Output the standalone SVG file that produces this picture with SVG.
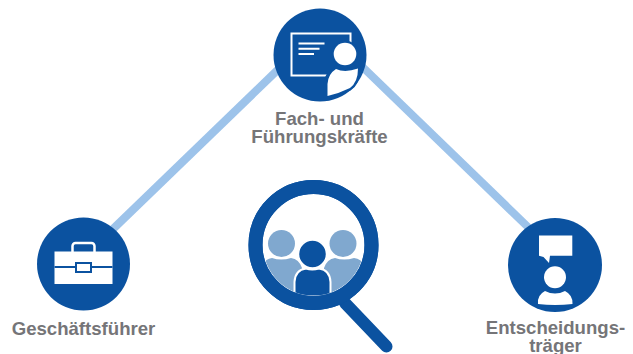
<svg xmlns="http://www.w3.org/2000/svg" width="633" height="354" viewBox="0 0 633 354">
<defs><clipPath id="lens"><circle cx="313.500" cy="245" r="50.500"/></clipPath></defs>
<style>
.c{fill:#0b52a0}.w{fill:#fff}.b{fill:#0b52a0}
.t{font-family:"Liberation Sans",Arial,sans-serif;font-weight:700;font-size:18.600px;fill:#757578;text-anchor:middle}
.l{stroke:#9dc3ea;stroke-width:8;fill:none}
</style>
<rect width="633" height="354" fill="#fff"/>
<g id="connectors">
<path class="l" d="M113 229L290 58"/>
<path class="l" d="M345 50L530 229"/>
</g>
<g id="fuehrung">
<circle class="c" cx="320" cy="55" r="46.5"/>
<rect x="291.500" y="33.500" width="59" height="42" fill="none" stroke="#fff" stroke-width="2"/>
<path d="M298.500 43.500H324.500M298.500 48.800H319.500M298.500 54H314" stroke="#fff" stroke-width="2" fill="none"/>
<circle cx="345" cy="54" r="13.500" class="c"/>
<path d="M325 96V84Q326 72 338 67L352 66Q358 68 358 72Q358 84 350 89Q338 94 325 96Z" class="c" stroke="#0b52a0" stroke-width="3"/>
<circle cx="345" cy="54" r="11.300" class="w"/>
<path d="M327.500 96V84Q328 74 336 69Q345 73 358 68.500Q358 82 350 88Q340 93 327.500 96Z" class="w"/>
<text class="t" x="319.500" y="124.500">Fach- und</text>
<text class="t" x="319.500" y="143">Führungskräfte</text>
</g>
<g id="geschaeftsfuehrer">
<circle class="c" cx="83.500" cy="264" r="46.500"/>
<rect x="72.500" y="243" width="22" height="12" rx="3" fill="none" stroke="#fff" stroke-width="2.500"/>
<rect class="w" x="54.500" y="251.500" width="58" height="32.500"/>
<path d="M54.500 267H112.500" stroke="#0b52a0" stroke-width="1.800"/>
<rect x="76" y="263" width="15" height="9" fill="#fff" stroke="#0b52a0" stroke-width="2"/>
<text class="t" x="83.500" y="334.500">Geschäftsführer</text>
</g>
<g id="suche">
<path d="M345 303L386.500 346.500" stroke="#0b52a0" stroke-width="12" stroke-linecap="round"/>
<circle cx="313.500" cy="245" r="58" fill="#fff" stroke="#0b52a0" stroke-width="14"/>
<g clip-path="url(#lens)">
<circle cx="281.500" cy="243.500" r="13.500" fill="#80a8cf"/>
<circle cx="343" cy="243.500" r="13.500" fill="#80a8cf"/>
<path d="M262 300V268Q264 259 272 258Q281 261 291 258Q299 259 302 268V300Z" fill="#80a8cf"/>
<path d="M365 300V268Q363 259 354 258Q344 261 335 258Q327 259 324 268V300Z" fill="#80a8cf"/>
<circle cx="312.500" cy="254" r="14" class="b" stroke="#fff" stroke-width="1.500"/>
<path d="M294.500 310V282Q295 270 306 268.500Q312 270.500 319 268.500Q330 270 330.500 282V310Z" class="b" stroke="#fff" stroke-width="2"/>
</g>
<circle cx="313.500" cy="245" r="58" fill="none" stroke="#0b52a0" stroke-width="14"/>
</g>
<g id="entscheidung">
<circle class="c" cx="555" cy="265" r="47"/>
<path class="w" d="M539 235.500H572.300V255.700H550L549 263L543.500 257L539 255.700Z"/>
<circle class="w" cx="555" cy="277.300" r="11"/>
<path class="w" d="M538 304Q537 295 545 291Q555 296 565 291Q573 295 572.500 304Q555 306 538 304Z"/>
<text class="t" x="555.500" y="333.500">Entscheidungs-</text>
<text class="t" x="555.500" y="351.500">träger</text>
</g>
</svg>
